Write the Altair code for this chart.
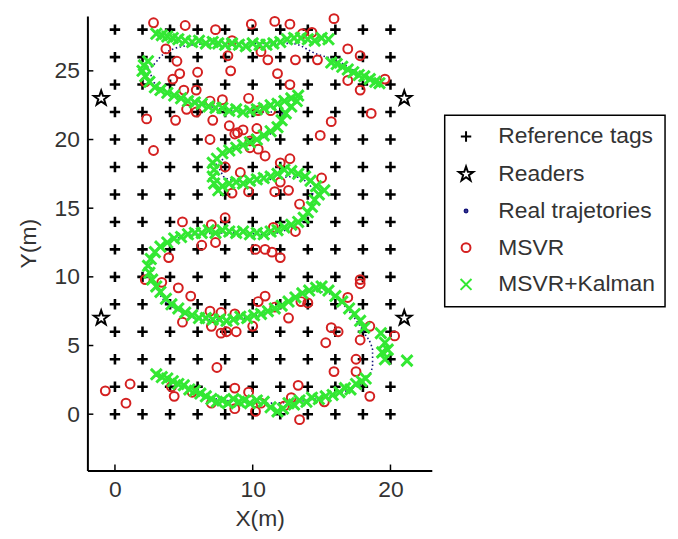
import altair as alt
import pandas as pd

# ---------------- data ----------------
tag_cols = [0, 2, 4, 6, 8, 10, 12, 14, 16, 18, 20]
tag_rows = [0, 2, 4, 6, 8, 10, 12, 14, 16, 18, 20, 22, 24, 26, 28]

reader_x = [-1, 21, -1, 21]
reader_y = [7, 7, 23, 23]

real_x = [3.0, 5.0, 7.0, 9.0, 11.0, 13.0, 15.0, 17.0, 18.3, 18.7, 18.7, 18.1, 17.0, 15.5, 14.0,
          12.5, 10.5, 8.5, 6.5, 4.7, 3.2, 2.5, 2.8, 4.1, 6.0, 8.5, 11.0, 12.8, 14.0, 14.5,
          14.2, 13.0, 11.3, 9.5, 8.0, 7.3, 8.5, 10.2, 11.8, 12.3, 10.5, 8.5, 6.2, 4.2, 2.8,
          2.4, 3.5, 5.0, 7.5, 10.0, 12.8, 14.7, 16.0, 17.6, 19.1]
real_y = [2.8, 2.0, 1.2, 0.9, 0.8, 0.9, 1.2, 1.8, 2.6, 3.5, 4.7, 5.9, 7.5, 8.8, 9.0,
          8.2, 7.3, 6.9, 6.9, 7.5, 8.8, 10.3, 11.6, 12.6, 13.1, 13.2, 13.1, 13.6, 14.5, 15.6,
          16.6, 17.3, 17.1, 16.9, 17.2, 18.2, 19.3, 19.9, 20.9, 22.0, 22.0, 22.1, 22.6, 23.3, 24.2,
          25.2, 26.2, 26.8, 27.0, 27.0, 27.0, 26.2, 25.8, 24.9, 24.3]

msvr_pts = [
    (2.8, 28.5), (5.1, 28.3), (7.3, 28.0), (9.9, 28.4), (11.6, 28.6), (12.7, 28.4), (15.9, 28.8),
    (13.6, 27.7), (14.3, 27.8), (8.5, 27.2), (3.7, 26.6), (4.5, 25.7), (4.7, 24.8), (6.0, 24.9),
    (8.4, 25.0), (8.2, 26.1), (10.6, 26.4), (11.1, 25.8), (13.1, 25.8), (14.7, 25.8), (16.9, 26.6),
    (17.8, 26.1), (2.2, 24.2), (4.2, 24.4), (5.9, 23.6), (5.0, 23.6), (6.9, 22.8), (7.8, 22.9),
    (9.7, 23.0), (11.8, 24.8), (12.7, 24.0), (16.9, 24.3), (17.8, 23.6), (19.6, 24.4), (5.2, 22.2),
    (2.3, 21.5), (4.4, 21.4), (5.9, 22.0), (7.1, 21.4), (8.3, 21.0), (8.9, 20.5), (6.9, 20.0),
    (2.8, 19.2), (9.8, 19.9), (10.4, 22.1), (11.3, 22.1), (15.7, 21.3), (18.6, 21.9), (14.9, 20.3),
    (9.3, 20.7), (10.3, 20.8), (8.7, 20.4), (9.8, 19.4), (10.4, 19.3), (10.9, 18.8), (12.0, 18.3),
    (12.7, 18.6), (15.0, 17.2), (9.1, 17.6), (8.0, 18.0), (12.0, 16.9), (11.6, 16.2), (12.6, 16.3),
    (9.7, 16.2), (8.5, 16.1), (13.4, 15.3), (4.9, 14.0), (7.0, 13.8), (8.0, 14.3), (6.3, 12.3),
    (7.3, 12.5), (10.2, 12.0), (10.9, 12.0), (11.4, 11.8), (12.0, 11.4), (11.5, 13.6), (13.1, 13.3),
    (3.9, 11.4), (3.4, 9.6), (4.6, 9.2), (5.5, 8.6), (2.2, 9.8), (10.9, 8.6), (10.4, 8.2),
    (11.6, 7.8), (13.5, 8.2), (14.0, 8.1), (16.9, 8.5), (6.9, 7.5), (7.7, 7.4), (8.7, 7.3),
    (12.6, 7.0), (17.8, 9.8), (17.8, 9.5), (4.9, 6.7), (7.0, 6.4), (7.7, 5.9), (8.1, 6.0),
    (8.8, 6.0), (10.0, 6.4), (15.7, 6.3), (16.2, 6.0), (15.3, 5.2), (17.8, 5.4), (18.5, 6.4),
    (20.3, 5.7), (17.5, 4.0), (17.5, 3.1), (15.9, 3.1), (7.4, 3.4), (-0.7, 1.7), (1.1, 2.2),
    (0.8, 0.8), (4.1, 2.0), (4.3, 1.3), (8.7, 1.9), (9.7, 1.6), (10.2, 0.2), (10.6, 0.8),
    (8.7, 0.4), (13.3, 2.1), (12.8, 1.2), (13.4, -0.4), (15.2, 0.9), (18.5, 1.3), (5.6, 1.6),
    (7.0, 0.8), (12.3, 0.6),
]

kalman_pts = [
    # bottom arc
    (3.0, 2.9), (3.4, 2.7), (3.8, 2.6), (4.2, 2.4), (4.6, 2.2), (5.0, 2.1), (5.4, 1.8), (5.8, 1.7),
    (6.2, 1.5), (6.6, 1.3), (7.0, 1.1), (7.4, 0.9), (7.8, 1.0), (8.2, 0.8), (8.6, 1.1), (9.0, 0.9),
    (9.4, 1.0), (9.8, 0.8), (10.3, 1.0), (10.8, 0.9), (11.3, 0.5), (11.8, 0.2), (12.2, 0.4),
    (12.6, 0.8), (13.0, 0.7), (13.4, 1.0), (13.9, 0.9), (14.3, 1.2), (14.8, 1.1), (15.3, 1.3),
    (15.8, 1.4), (16.3, 1.6), (16.7, 1.9), (17.1, 1.8), (17.5, 2.2), (17.9, 2.4), (18.2, 2.6),
    # right-side outliers
    (19.3, 5.9), (19.6, 5.2), (19.8, 4.7), (19.6, 4.0), (21.2, 3.9), (19.4, 4.5),
    # middle S
    (18.1, 6.3), (17.8, 6.8), (17.4, 7.3), (17.0, 7.7), (16.5, 8.2), (16.0, 8.6), (15.5, 9.0),
    (15.0, 9.3), (14.6, 9.2), (14.1, 9.0), (13.6, 8.8), (13.1, 8.5), (12.6, 8.2), (12.1, 7.9),
    (11.6, 7.7), (11.1, 7.5), (10.6, 7.3), (10.1, 7.2), (9.6, 7.0), (9.1, 7.1), (8.6, 6.9),
    (8.1, 6.8), (7.6, 6.9), (7.1, 6.9), (6.6, 7.0), (6.1, 7.0), (5.6, 7.2), (5.1, 7.4), (4.6, 7.7),
    (4.1, 8.0), (3.7, 8.4), (3.3, 8.9), (3.0, 9.3), (2.7, 9.8), (2.5, 10.3), (2.4, 10.8),
    (2.6, 11.3), (2.9, 11.8), (3.3, 12.2), (3.8, 12.5), (4.3, 12.8), (4.8, 12.9), (5.3, 13.1),
    (5.8, 13.2), (6.3, 13.2), (6.8, 13.4), (7.3, 13.2), (7.8, 13.4), (8.3, 13.3), (8.8, 13.2),
    (9.3, 13.3), (9.8, 13.1), (10.3, 13.2), (10.8, 13.1), (11.3, 13.3), (11.8, 13.4), (12.3, 13.6),
    (12.8, 13.8), (13.3, 14.0), (13.7, 14.3), (14.0, 14.7), (14.3, 15.1), (14.5, 15.6),
    (14.8, 16.0), (15.2, 16.3), (14.6, 16.6),
    # upper loops
    (14.2, 17.0), (13.8, 17.3), (13.3, 17.5), (12.8, 17.7), (12.3, 17.8), (11.8, 17.5),
    (11.3, 17.3), (10.8, 17.2), (10.3, 17.1), (9.8, 17.0), (9.3, 16.8), (8.8, 16.9), (8.3, 16.8),
    (7.8, 16.6), (7.5, 16.3), (7.2, 16.8), (7.1, 17.3), (7.2, 17.8), (7.1, 18.3), (7.4, 18.6),
    (7.8, 19.0), (8.3, 19.2), (8.8, 19.4), (9.3, 19.6), (9.8, 19.8), (10.3, 20.0), (10.8, 20.3),
    (11.3, 20.6), (11.8, 20.9), (12.1, 21.4), (12.4, 21.9), (12.8, 22.4), (13.2, 22.8),
    (13.3, 23.2), (12.8, 23.0), (12.3, 22.8), (11.8, 22.6), (11.3, 22.5), (10.8, 22.3),
    (10.3, 22.2), (9.8, 22.1), (9.3, 22.0), (8.8, 22.2), (8.3, 22.1), (7.8, 22.3), (7.3, 22.3),
    (6.8, 22.4), (6.3, 22.6), (5.8, 22.7), (5.3, 22.8), (4.8, 23.0), (4.3, 23.2), (3.8, 23.4),
    (3.3, 23.6), (2.9, 23.8), (2.5, 24.2), (2.2, 24.6), (2.0, 25.0), (2.1, 25.4), (2.4, 25.7),
    # top row
    (3.0, 27.7), (3.4, 27.6), (3.8, 27.5), (4.2, 27.4), (4.6, 27.3), (5.1, 27.2), (5.6, 27.1),
    (6.1, 27.2), (6.6, 27.0), (7.1, 27.1), (7.5, 27.0), (8.0, 26.9), (8.5, 27.0), (9.0, 26.9),
    (9.5, 26.8), (10.0, 27.0), (10.5, 26.9), (11.0, 26.9), (11.5, 27.0), (12.0, 27.1),
    (12.5, 27.3), (13.0, 27.4), (13.5, 27.4), (14.0, 27.3), (14.5, 27.2), (15.0, 27.4),
    (15.5, 27.3),
    # top right tail
    (15.7, 25.6), (16.1, 25.5), (16.5, 25.3), (16.9, 25.1), (17.3, 24.9), (17.7, 24.7),
    (18.1, 24.6), (18.5, 24.4), (18.9, 24.2), (19.2, 24.1),
]

x_ticks = [0, 10, 20]
y_ticks = [0, 5, 10, 15, 20, 25]

series_names = ["Reference tags", "Readers", "Real trajetories", "MSVR", "MSVR+Kalman"]

# ---------------- tables ----------------
tags_df = pd.DataFrame([(c, r) for r in tag_rows for c in tag_cols], columns=["x", "y"])
tags_df["series"] = series_names[0]
readers_df = pd.DataFrame({"x": reader_x, "y": reader_y, "series": series_names[1]})
real_df = pd.DataFrame({"x": real_x, "y": real_y, "idx": list(range(len(real_x)))})
msvr_df = pd.DataFrame(msvr_pts, columns=["x", "y"])
msvr_df["series"] = series_names[3]
kal_df = pd.DataFrame(kalman_pts, columns=["x", "y"])
kal_df["series"] = series_names[4]
xt_df = pd.DataFrame({"x": x_ticks})
yt_df = pd.DataFrame({"y": y_ticks})

# ---------------- styling ----------------
FONT = "Liberation Sans"
TXT = "#333333"
W, H = 347, 458

PLUS = "M-1,0L1,0M0,-1L0,1"
XMARK = "M-1,-1L1,1M-1,1L1,-1"
STAR = ("M0,-1L0.235,-0.324L0.951,-0.309L0.38,0.124L0.588,0.809L0,0.4"
        "L-0.588,0.809L-0.38,0.124L-0.951,-0.309L-0.235,-0.324Z")

xscale = alt.Scale(domain=[-2, 23], nice=False, zero=False)
yscale = alt.Scale(domain=[-4.1, 29], nice=False, zero=False)

xaxis = alt.Axis(values=x_ticks, ticks=False, grid=False, domainColor="black", domainWidth=2,
                 labelFont=FONT, labelFontSize=23, labelColor=TXT, labelPadding=8,
                 title="X(m)", titleFont=FONT, titleFontSize=23, titleFontWeight="normal",
                 titleColor=TXT, titlePadding=6)
yaxis = alt.Axis(values=y_ticks, ticks=False, grid=False, domainColor="black", domainWidth=2,
                 labelFont=FONT, labelFontSize=23, labelColor=TXT, labelPadding=8,
                 title="Y(m)", titleFont=FONT, titleFontSize=23, titleFontWeight="normal",
                 titleColor=TXT, titlePadding=14)

leg = alt.Legend(title=None, orient="none", legendX=360, legendY=100, strokeColor="black",
                 padding=10, labelFont=FONT, labelFontSize=23, labelColor=TXT, rowPadding=13,
                 labelOffset=21, symbolStrokeWidth=2, labelLimit=400)

X = alt.X("x:Q", scale=xscale, axis=xaxis)
Y = alt.Y("y:Q", scale=yscale, axis=yaxis)
color = alt.Color("series:N", scale=alt.Scale(
    domain=series_names, range=["black", "black", "#14147a", "#d42020", "#33e833"]), legend=leg)
shape = alt.Shape("series:N", scale=alt.Scale(
    domain=series_names, range=[PLUS, STAR, "circle", "circle", XMARK]), legend=leg)
size = alt.Size("series:N", scale=alt.Scale(
    type="ordinal", domain=series_names, range=[110, 240, 9, 80, 121]), legend=leg)


def pts(df, sw):
    return alt.Chart(df).mark_point(filled=False, strokeWidth=sw, opacity=1, clip=False).encode(
        x=X, y=Y, color=color, shape=shape, size=size)


tags_layer = pts(tags_df, 2.6)
readers_layer = pts(readers_df, 2.0)
real_layer = alt.Chart(real_df).mark_line(
    color="#14147a", strokeWidth=1.6, strokeDash=[1.5, 2.5], interpolate="monotone"
).encode(x=X, y=Y, order=alt.Order("idx:Q"))
msvr_layer = pts(msvr_df, 2.0)
kal_layer = pts(kal_df, 3.0)

xtick_layer = alt.Chart(xt_df).mark_rule(color="black", strokeWidth=1.5).encode(
    x=X, y=alt.value(H), y2=alt.value(H - 6))
ytick_layer = alt.Chart(yt_df).mark_rule(color="black", strokeWidth=1.5).encode(
    y=Y, x=alt.value(0), x2=alt.value(6))

chart = alt.layer(
    tags_layer, readers_layer, real_layer, msvr_layer, kal_layer, xtick_layer, ytick_layer
).properties(
    width=W, height=H,
    padding={"left": 80, "top": 6, "right": 240, "bottom": 60},
    autosize=alt.AutoSizeParams(type="none"),
).configure_view(stroke=None).configure_legend(strokeWidth=1.5)

chart.save("out.html", embed_options={"renderer": "svg", "actions": False})
